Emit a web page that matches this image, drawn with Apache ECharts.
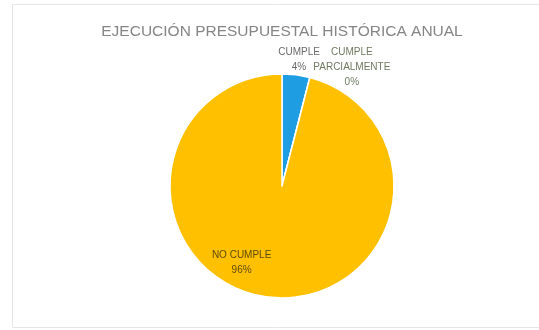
<!DOCTYPE html>
<html>
<head>
<meta charset="utf-8">
<script src="https://cdn.jsdelivr.net/npm/echarts@6/dist/echarts.min.js"></script>
<style>
  html, body { margin: 0; padding: 0; background: #ffffff; }
  #chart { width: 539px; height: 330px; }
</style>
</head>
<body>
<div id="chart"></div>
<script>
// Annual historical budget execution: share of each compliance status
const titleText = 'EJECUCIÓN PRESUPUESTAL HISTÓRICA ANUAL';
const categories = ['CUMPLE', 'CUMPLE PARCIALMENTE', 'NO CUMPLE'];
const labelNames = ['CUMPLE', 'CUMPLE\nPARCIALMENTE', 'NO CUMPLE'];
const values = [4, 0, 96];

const sliceColors = ['#1E9DE2', '#A5A5A5', '#FFC000'];
const labelColors = ['#6a6a6a', '#6f7a60', '#5e4b08'];
// label nudges relative to the library's own placement
const labelShift = [
  { dx: -3, dy: -7 },
  { dx: 35, dy: -3 },
  { dx: -33, dy: 18 }
];

const chart = echarts.init(document.getElementById('chart'), null, { renderer: 'canvas' });

const seriesData = categories.map((name, i) => ({
  name: name,
  value: values[i],
  itemStyle: { color: sliceColors[i] },
  label: {
    position: i === 2 ? 'inside' : 'outside',
    color: labelColors[i],
    formatter: () => labelNames[i] + '\n' + values[i] + '%'
  }
}));

chart.setOption({
  animation: false,
  backgroundColor: '#ffffff',
  title: {
    text: titleText,
    left: 277,
    top: 19,
    textAlign: 'center',
    textStyle: {
      fontFamily: 'Liberation Sans',
      fontSize: 15.5,
      fontWeight: 'normal',
      color: '#858585'
    }
  },
  graphic: [{
    type: 'rect',
    shape: { x: 12.5, y: 4.5, width: 540, height: 323 },
    style: { fill: 'none', stroke: '#e6e6e6', lineWidth: 1 },
    silent: true
  }],
  series: [{
    type: 'pie',
    center: [282, 186],
    radius: [0, 112],
    startAngle: 90,
    clockwise: true,
    avoidLabelOverlap: false,
    stillShowZeroSum: true,
    itemStyle: { borderColor: '#ffffff', borderWidth: 1.5 },
    label: {
      show: true,
      fontFamily: 'Liberation Sans',
      fontSize: 10,
      lineHeight: 15,
      align: 'center'
    },
    labelLine: { show: false, length: 8, length2: 0 },
    labelLayout: (params) => ({
      dx: labelShift[params.dataIndex].dx,
      dy: labelShift[params.dataIndex].dy,
      align: 'center'
    }),
    emphasis: { disabled: true },
    data: seriesData
  }]
});
</script>
</body>
</html>
